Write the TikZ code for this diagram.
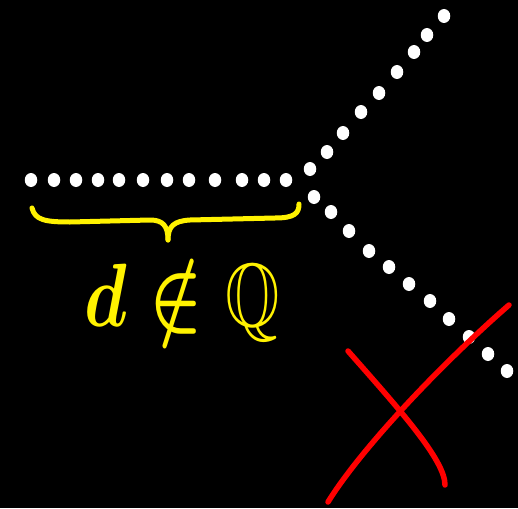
\documentclass[tikz,border=0pt]{standalone}
\usepackage{amsmath,amssymb}
\usetikzlibrary{shapes.geometric}
\begin{document}
\begin{tikzpicture}[x=1pt,y=-1pt,
  dot/.style={fill=white,ellipse,inner sep=0pt,minimum width=12.5pt,minimum height=14pt},
  ybrace/.style={draw=yellow,line width=5pt,line cap=round,line join=round},
  redx/.style={draw=red,line width=5.5pt,line cap=round}]
\fill[black] (0,0) rectangle (518,508);
\useasboundingbox (0,0) rectangle (518,508);
% horizontal row
\foreach \x [count=\i] in {31,54,76,98,119,143,167,189,215,242,264,286}
  \node[dot] (h\i) at (\x,180) {};
% upper branch
\foreach \x/\y [count=\i] in {310/169,327/152,343/133,361/112,379/93,397/72,414/52,427/35,444/16}
  \node[dot] (u\i) at (\x,\y) {};
% lower branch
\foreach \x/\y [count=\i] in {314/197,331/212,349/231,369/251,389/267,409/284,430/301,449/319,469/337,488/354,507/371}
  \node[dot] (l\i) at (\x,\y) {};
% brace
\coordinate (bl) at (32,208);
\coordinate (bt) at (168,240);
\coordinate (br) at (299,204);
\draw[ybrace] (bl) .. controls (35,220) and (45,222) .. (70,222) -- (150,220)
  .. controls (163,220) and (168,226) .. (bt);
\draw[ybrace] (bt) .. controls (168,226) and (174,221) .. (190,220) -- (275,218)
  .. controls (295,218) and (299,213) .. (br);
% text
\node[text=yellow,inner sep=0pt] (lbl) at (182,300)
  {\scalebox{7}[9]{$\boldsymbol{d \notin \mathbb{Q}}$}};
% red X
\coordinate (a1) at (348,351);
\coordinate (a2) at (445,485);
\coordinate (b1) at (509,305);
\coordinate (b2) at (328,502);
\draw[redx] (a1) .. controls (400,410) and (445,460) .. (a2);
\draw[redx] (b1) .. controls (440,365) and (360,450) .. (b2);
\end{tikzpicture}
\end{document}
